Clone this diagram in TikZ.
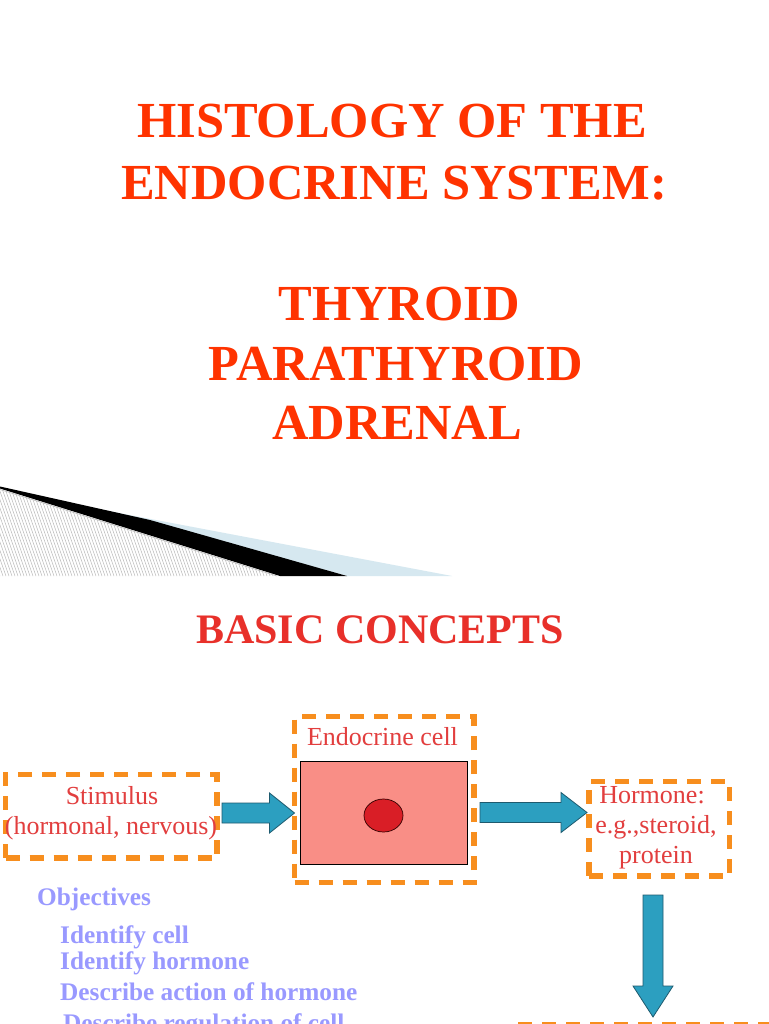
\documentclass[tikz,border=0pt]{standalone}
\usepackage{fontspec}
\setmainfont{Liberation Serif}
\usetikzlibrary{calc,shapes.geometric}
\definecolor{titlered}{RGB}{255,51,0}
\definecolor{basicred}{RGB}{232,48,42}
\definecolor{boxtext}{RGB}{226,62,62}
\definecolor{dashorange}{RGB}{247,142,30}
\definecolor{objblue}{RGB}{153,153,255}
\definecolor{arrowfill}{RGB}{44,159,192}
\definecolor{arrowedge}{RGB}{30,90,110}
\definecolor{cellpink}{RGB}{249,142,134}
\definecolor{nucred}{RGB}{217,30,38}
\definecolor{wedgeblue}{RGB}{214,232,240}
\definecolor{hatchgray}{RGB}{185,185,185}
\tikzset{
  titletext/.style={text=titlered,font=\fontsize{50.5}{60}\selectfont\bfseries,anchor=base,inner sep=0pt},
  basictext/.style={text=basicred,font=\fontsize{42}{50}\selectfont\bfseries,anchor=base,inner sep=0pt},
  boxlabel/.style={text=boxtext,font=\fontsize{26}{30}\selectfont,anchor=base,inner sep=0pt},
  objtext/.style={text=objblue,font=\fontsize{25.3}{30}\selectfont\bfseries,anchor=base west,inner sep=0pt},
  dbox/.style={draw=dashorange,line width=5.5pt,dash pattern=on 14pt off 10pt,inner sep=0pt,outer sep=0pt},
  barrow/.style={fill=arrowfill,draw=arrowedge,line width=0.8pt,line join=miter},
}
\newcommand\blockarrowright[3]{%
  \draw[barrow] let \p1=(#1), \p2=(#2) in
    (\x1,\y1+10pt) -- (\x2-#3,\y1+10pt) -- (\x2-#3,\y1+20pt) -- (\x2,\y1)
    -- (\x2-#3,\y1-20pt) -- (\x2-#3,\y1-10pt) -- (\x1,\y1-10pt) -- cycle;}
\newcommand\blockarrowdown[3]{%
  \draw[barrow] let \p1=(#1), \p2=(#2) in
    (\x1-10pt,\y1) -- (\x1-10pt,\y2+#3) -- (\x1-20pt,\y2+#3) -- (\x1,\y2)
    -- (\x1+20pt,\y2+#3) -- (\x1+10pt,\y2+#3) -- (\x1+10pt,\y1) -- cycle;}
\begin{document}
\begin{tikzpicture}[x=1pt,y=-1pt]
\useasboundingbox (0,0) rectangle (768,1024);
\fill[white] (0,0) rectangle (768,1024);

% ---------- title slide ----------
\node[titletext] (t1) at (392,138) {HISTOLOGY OF THE};
\node[titletext] (t2) at (394,200) {ENDOCRINE SYSTEM:};
\node[titletext] (t3) at (399,320) {THYROID};
\node[titletext] (t4) at (396,380) {PARATHYROID};
\node[titletext] (t5) at (397,439) {ADRENAL};

% decorative wedge
\fill[wedgeblue] (103,510) -- (452,576) -- (347,576) -- (150,521) -- cycle;
\begin{scope}
  \clip (0,489) -- (277,576) -- (0,576) -- cycle;
  \foreach \k in {-40,-37,...,300} {
    \draw[hatchgray,line width=0.5pt] (\k,480) -- (\k+34,576);
  }
\end{scope}
\fill[black] (0,486.5) -- (150,520) -- (347,576) -- (280,576) -- (0,488.5) -- cycle;
\draw[hatchgray,line width=0.6pt] (0,489.5) -- (277,576);

% ---------- second slide ----------
\node[basictext] (basic) at (380,643) {BASIC CONCEPTS};

% boxes
\node[dbox,minimum width=211.5pt,minimum height=83.5pt] (stim) at (111.25,816.25) {};
\node[dbox,minimum width=179.5pt,minimum height=166pt] (cell) at (384.25,799.5) {};
\node[dbox,minimum width=140.5pt,minimum height=94.5pt] (horm) at (659.25,828.75) {};
\node[dbox,minimum width=320pt,minimum height=200pt,anchor=north west] (next) at (508,1024.5) {};

\node[draw=black,line width=0.9pt,fill=cellpink,minimum width=166.6pt,minimum height=103.3pt,inner sep=0pt,outer sep=0pt] (body) at (384,812.65) {};
\node[ellipse,draw=black!80!red,line width=0.7pt,fill=nucred,minimum width=39pt,minimum height=33pt,inner sep=0pt] (nucleus) at (383.5,815.5) {};

% box texts
\node[boxlabel] (stimA) at (112,804) {Stimulus};
\node[boxlabel] (stimB) at (111,834) {(hormonal, nervous)};
\node[boxlabel] (cellA) at (382.5,745) {Endocrine cell};
\node[boxlabel] (hormA) at (652,803) {Hormone:};
\node[boxlabel] (hormB) at (656,833) {e.g.,steroid,};
\node[boxlabel] (hormC) at (656,863) {protein};

% arrows
\coordinate (a1s) at (222,813);
\coordinate (a1e) at (cell.west |- a1s);
\coordinate (a2s) at (480,812.5);
\coordinate (a2e) at (587,812.5);
\coordinate (a3s) at (653,895);
\coordinate (a3e) at (653,1017);
\blockarrowright{a1s}{a1e}{25pt}
\blockarrowright{a2s}{a2e}{26pt}
\blockarrowdown{a3s}{a3e}{31pt}

% objectives
\node[objtext] (obj) at (37,905) {Objectives};
\node[objtext] (o1) at (60,943) {Identify cell};
\node[objtext] (o2) at (60,969) {Identify hormone};
\node[objtext] (o3) at (60,1000) {Describe action of hormone};
\node[objtext] (o4) at (63,1031) {Describe regulation of cell};
\end{tikzpicture}
\end{document}
